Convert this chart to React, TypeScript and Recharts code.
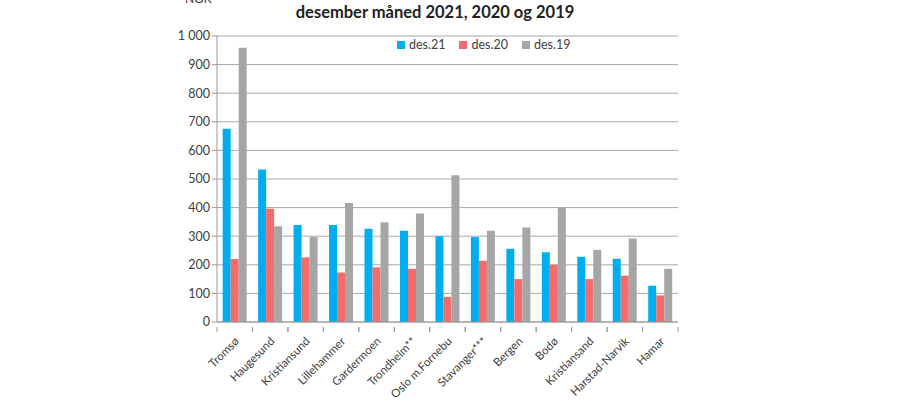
import React from 'react';
import { BarChart, Bar, XAxis, YAxis, CartesianGrid } from 'recharts';

// Airports and average fares (NOK) for December of each year
const airports = [
  'Tromsø', 'Haugesund', 'Kristiansund', 'Lillehammer', 'Gardermoen', 'Trondheim**',
  'Oslo m.Fornebu', 'Stavanger***', 'Bergen', 'Bodø', 'Kristiansand', 'Harstad-Narvik', 'Hamar',
];
const des21 = [676, 533, 339, 339, 326, 319, 300, 297, 256, 244, 228, 221, 127];
const des20 = [220, 396, 226, 173, 191, 186, 88, 214, 150, 200, 150, 162, 93];
const des19 = [959, 335, 297, 416, 349, 379, 513, 319, 330, 400, 252, 292, 186];
const yTicks = [0, 100, 200, 300, 400, 500, 600, 700, 800, 900, 1000];

const series = [
  { key: 'd21', name: 'des.21', color: '#00aeef' },
  { key: 'd20', name: 'des.20', color: '#f46b6b' },
  { key: 'd19', name: 'des.19', color: '#a6a6a6' },
];

const data = airports.map((name, i) => ({
  name,
  d21: des21[i],
  d20: des20[i],
  d19: des19[i],
}));

const FONT = 'Lato, "Open Sans", sans-serif';
const TEXT = '#404040';
const AXIS = '#9a9a9a';

const PLOT_LEFT = 217;
const PLOT_RIGHT = 678;
const CAT_W = (PLOT_RIGHT - PLOT_LEFT) / airports.length;

const fmtY = (v: number) => (v >= 1000 ? `${Math.floor(v / 1000)} ${String(v % 1000).padStart(3, '0')}` : String(v));

const XTick = (props: any) => {
  const { x, y, payload } = props;
  return (
    <g>
      <line x1={x - CAT_W / 2} x2={x - CAT_W / 2} y1={y - 3} y2={y + 2} stroke={AXIS} />
      <line x1={x + CAT_W / 2} x2={x + CAT_W / 2} y1={y - 3} y2={y + 2} stroke={AXIS} />
      <g transform={`translate(${x + 5},${y + 12})`}>
        <text
          x={0}
          y={0}
          textAnchor="end"
          transform="rotate(-45)"
          fontSize={11.5}
          fontFamily={FONT}
          fill={TEXT}
        >
          {payload.value}
        </text>
      </g>
    </g>
  );
};

export default function App() {
  return (
    <div style={{ position: 'absolute', left: 0, top: 0, width: 900, height: 400, background: '#fff' }}>
      <div
        style={{
          position: 'absolute', left: 185, top: -9, fontFamily: FONT, fontSize: 12, color: TEXT,
        }}
      >
        NOK
      </div>
      <div
        style={{
          position: 'absolute', left: 0, width: 870, top: 2, textAlign: 'center',
          fontFamily: FONT, fontWeight: 700, fontSize: 16.5, color: '#222',
        }}
      >
        desember måned 2021, 2020 og 2019
      </div>
      <div
        style={{
          position: 'absolute', left: 397, top: 37, display: 'flex', gap: 14,
          fontFamily: FONT, fontSize: 12.5, color: TEXT, zIndex: 2,
        }}
      >
        {series.map((s) => (
          <div key={s.key} style={{ display: 'flex', alignItems: 'center', gap: 4 }}>
            <span style={{ width: 8, height: 8, background: s.color, display: 'inline-block' }} />
            <span>{s.name}</span>
          </div>
        ))}
      </div>
      <BarChart
        width={900}
        height={400}
        data={data}
        margin={{ top: 36, right: 900 - PLOT_RIGHT, left: PLOT_LEFT - 55, bottom: 0 }}
        barGap={0}
        barCategoryGap="16%"
      >
        <CartesianGrid vertical={false} stroke="#a8a8a8" />
        <XAxis
          dataKey="name"
          interval={0}
          height={78}
          tickLine={false}
          stroke={AXIS}
          tick={<XTick />}
        />
        <YAxis
          width={55}
          domain={[0, 1000]}
          ticks={yTicks}
          tickFormatter={fmtY}
          stroke={AXIS}
          tickSize={5}
          tick={{ fill: TEXT, fontSize: 12.5, fontFamily: FONT }}
        />
        {series.map((s) => (
          <Bar key={s.key} dataKey={s.key} name={s.name} fill={s.color} isAnimationActive={false} />
        ))}
      </BarChart>
    </div>
  );
}
